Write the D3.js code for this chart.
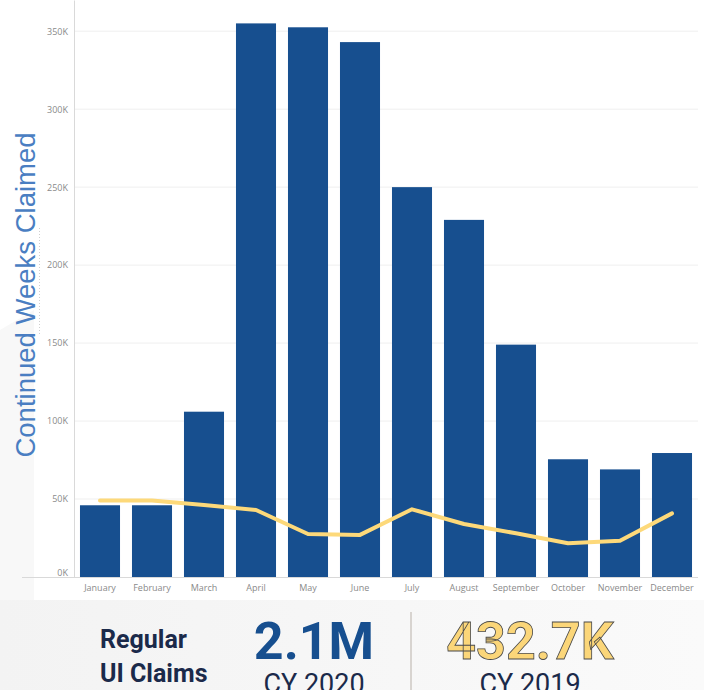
<html>
<head>
	<meta charset="utf-8">
	<title>Continued Weeks Claimed</title>
	<script src="https://d3js.org/d3.v7.min.js"></script>
	<style>
	body { margin: 0; background: #fff; }
	.tick text { font-family: "Open Sans", sans-serif; font-size: 9px; fill: #8a8a8a; }
	</style>
</head>
<body>
	<div id="chart"></div>

	<script>
		// monthly continued weeks claimed
		var months = ["January", "February", "March", "April", "May", "June",
		              "July", "August", "September", "October", "November", "December"];
		var claims2020 = [46000, 46000, 106000, 355000, 352500, 343000,
		                  250000, 229000, 149000, 75500, 69000, 79500];
		var claims2019 = [49000, 49000, 46200, 43000, 27600, 27000,
		                  43400, 34000, 28000, 21600, 23300, 40800];
		var yTicks = [0, 50000, 100000, 150000, 200000, 250000, 300000, 350000];

		var svg = d3.select("#chart")
			.append("svg")
			.attr("width", 704)
			.attr("height", 690);

		// faint background panels
		svg.append("path")
			.attr("d", "M0,330 L34,310 L34,650 L0,660 Z")
			.attr("fill", "#f8f8f8");

		var grad = svg.append("defs").append("linearGradient")
			.attr("id", "bg").attr("x1", 0).attr("x2", 1).attr("y1", 0).attr("y2", 0);
		grad.append("stop").attr("offset", "0").attr("stop-color", "#f3f3f3");
		grad.append("stop").attr("offset", "1").attr("stop-color", "#fafafa");
		svg.append("rect")
			.attr("x", 0).attr("y", 600).attr("width", 704).attr("height", 90)
			.attr("fill", "url(#bg)");

		var x = d3.scaleBand().domain(months).range([74, 698])
			.paddingInner(0.23).paddingOuter(0.115);
		var y = d3.scaleLinear().domain([0, 370000]).range([577, 0]);

		// gridlines
		svg.append("g")
			.selectAll("line")
			.data(yTicks.slice(1))
			.enter().append("line")
			.attr("x1", 74).attr("x2", 698)
			.attr("y1", function(d) { return y(d); })
			.attr("y2", function(d) { return y(d); })
			.attr("stroke", "#efefef");

		// y axis
		var yAxis = svg.append("g")
			.attr("transform", "translate(74,0)")
			.call(d3.axisLeft(y).tickValues(yTicks).tickSize(0).tickPadding(6)
				.tickFormat(function(d) { return (d / 1000) + "K"; }));
		yAxis.select(".domain").attr("stroke", "#d9d9d9");
		yAxis.selectAll(".tick text").attr("dy", function(d) { return d === 0 ? "-0.2em" : "0.32em"; });

		// bars
		svg.selectAll(".bar")
			.data(claims2020)
			.enter().append("rect")
			.attr("class", "bar")
			.attr("x", function(d, i) { return x(months[i]); })
			.attr("y", function(d) { return y(d); })
			.attr("width", x.bandwidth())
			.attr("height", function(d) { return y(0) - y(d); })
			.attr("fill", "#174f8f");

		// x axis
		var xAxis = svg.append("g")
			.attr("transform", "translate(0,577)")
			.call(d3.axisBottom(x).tickSize(0).tickPadding(8));
		xAxis.select(".domain").remove();
		svg.append("line")
			.attr("x1", 22).attr("x2", 698).attr("y1", 577.5).attr("y2", 577.5)
			.attr("stroke", "#d9d9d9");

		// 2019 line
		var line = d3.line()
			.x(function(d, i) { return x(months[i]) + x.bandwidth() / 2; })
			.y(function(d) { return y(d); });
		svg.append("path")
			.datum(claims2019)
			.attr("d", line)
			.attr("fill", "none")
			.attr("stroke", "#fdd97a")
			.attr("stroke-width", 4)
			.attr("stroke-linejoin", "round")
			.attr("stroke-linecap", "round");

		// axis title
		svg.append("text")
			.attr("transform", "translate(35,295) rotate(-90)")
			.attr("text-anchor", "middle")
			.attr("font-family", "Liberation Sans, Arial, sans-serif")
			.attr("font-size", 27.5)
			.attr("fill", "#4a7ec2")
			.text("Continued Weeks Claimed");
		svg.append("line")
			.attr("x1", 39.5).attr("x2", 39.5).attr("y1", 228).attr("y2", 335)
			.attr("stroke", "#cfcfcf").attr("stroke-dasharray", "1,2");

		// summary panel
		var font = "Roboto, sans-serif";
		svg.append("text").attr("x", 100).attr("y", 648)
			.attr("font-family", font).attr("font-weight", "bold").attr("font-size", 25)
			.attr("fill", "#1b2a4a").text("Regular");
		svg.append("text").attr("x", 100).attr("y", 682)
			.attr("font-family", font).attr("font-weight", "bold").attr("font-size", 25)
			.attr("fill", "#1b2a4a").text("UI Claims");

		svg.append("text").attr("x", 314).attr("y", 659).attr("text-anchor", "middle")
			.attr("font-family", font).attr("font-weight", "bold").attr("font-size", 52)
			.attr("fill", "#174f8f").text("2.1M");
		svg.append("text").attr("x", 314).attr("y", 693).attr("text-anchor", "middle")
			.attr("font-family", font).attr("font-size", 27)
			.attr("fill", "#1b2a4a").text("CY 2020");

		svg.append("line")
			.attr("x1", 411).attr("x2", 411).attr("y1", 612).attr("y2", 690)
			.attr("stroke", "#d8d4d0").attr("stroke-width", 2);

		svg.append("text").attr("x", 530).attr("y", 659).attr("text-anchor", "middle")
			.attr("font-family", font).attr("font-weight", "bold").attr("font-size", 52)
			.attr("fill", "#fbd679").attr("stroke", "#4a4a4a").attr("stroke-width", 0.8)
			.text("432.7K");
		svg.append("text").attr("x", 530).attr("y", 693).attr("text-anchor", "middle")
			.attr("font-family", font).attr("font-size", 27)
			.attr("fill", "#1b2a4a").text("CY 2019");
	</script>
</body>
</html>
